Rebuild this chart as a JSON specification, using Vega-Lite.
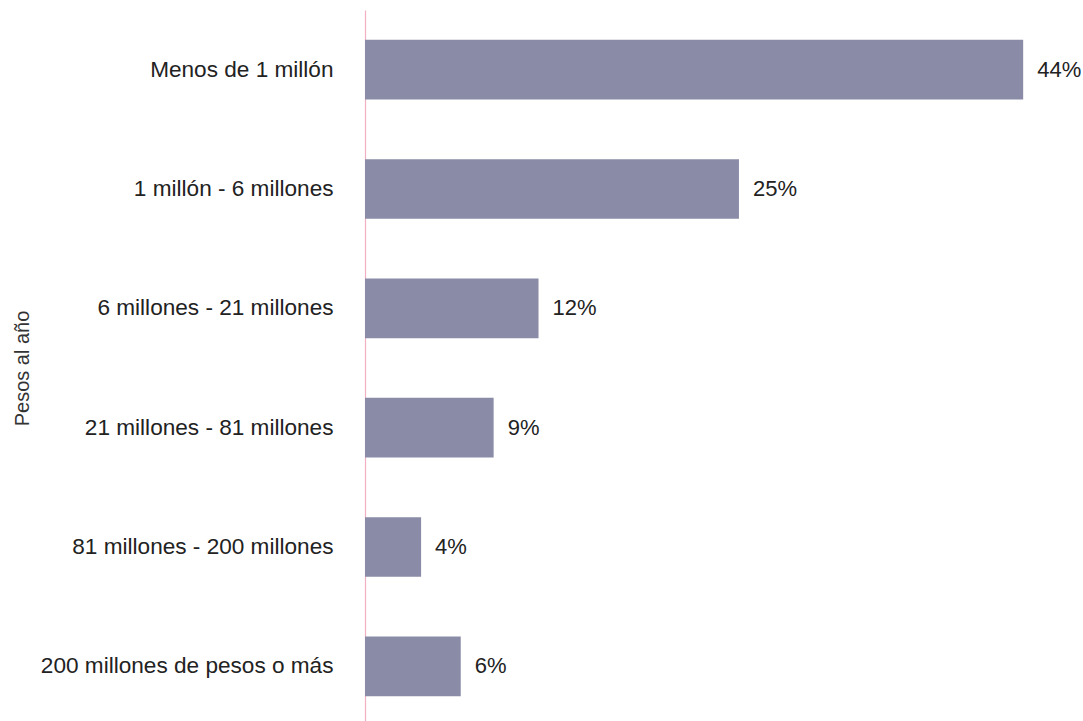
{
  "$schema": "https://vega.github.io/schema/vega-lite/v6.json",
  "autosize": "none",
  "padding": {"left": 365, "top": 10, "right": 0, "bottom": 0},
  "width": 718,
  "height": 716,
  "background": "white",
  "data": {
    "values": [
      {"rango": "Menos de 1 millón", "pct": 44, "label": "44%"},
      {"rango": "1 millón - 6 millones", "pct": 25, "label": "25%"},
      {"rango": "6 millones - 21 millones", "pct": 11.6, "label": "12%"},
      {"rango": "21 millones - 81 millones", "pct": 8.6, "label": "9%"},
      {"rango": "81 millones - 200 millones", "pct": 3.75, "label": "4%"},
      {"rango": "200 millones de pesos o más", "pct": 6.4, "label": "6%"}
    ]
  },
  "encoding": {
    "y": {
      "field": "rango",
      "type": "nominal",
      "sort": null,
      "scale": {"paddingInner": 0.5, "paddingOuter": 0.25},
      "axis": {
        "title": "Pesos al año",
        "titleFont": "Liberation Sans",
        "titleFontSize": 20,
        "titleFontWeight": "normal",
        "titleColor": "#333333",
        "titleX": -333,
        "titleBaseline": "bottom",
        "labelFont": "Liberation Sans",
        "labelFontSize": 22.6,
        "labelColor": "#222222",
        "labelPadding": 32,
        "labelLimit": 400,
        "ticks": false,
        "domainColor": "#f2b0c0",
        "domainOpacity": 1,
        "domainWidth": 1.2
      }
    },
    "x": {
      "field": "pct",
      "type": "quantitative",
      "scale": {"domain": [0, 48]},
      "axis": null
    }
  },
  "layer": [
    {
      "mark": {"type": "bar", "color": "#8a8ba6"}
    },
    {
      "mark": {
        "type": "text",
        "align": "left",
        "baseline": "middle",
        "dx": 14,
        "font": "Liberation Sans",
        "fontSize": 22,
        "color": "#222222"
      },
      "encoding": {
        "text": {"field": "label", "type": "nominal"}
      }
    }
  ],
  "config": {
    "view": {"stroke": null},
    "axisY": {"domainColor": "#f2b0c0"}
  }
}
